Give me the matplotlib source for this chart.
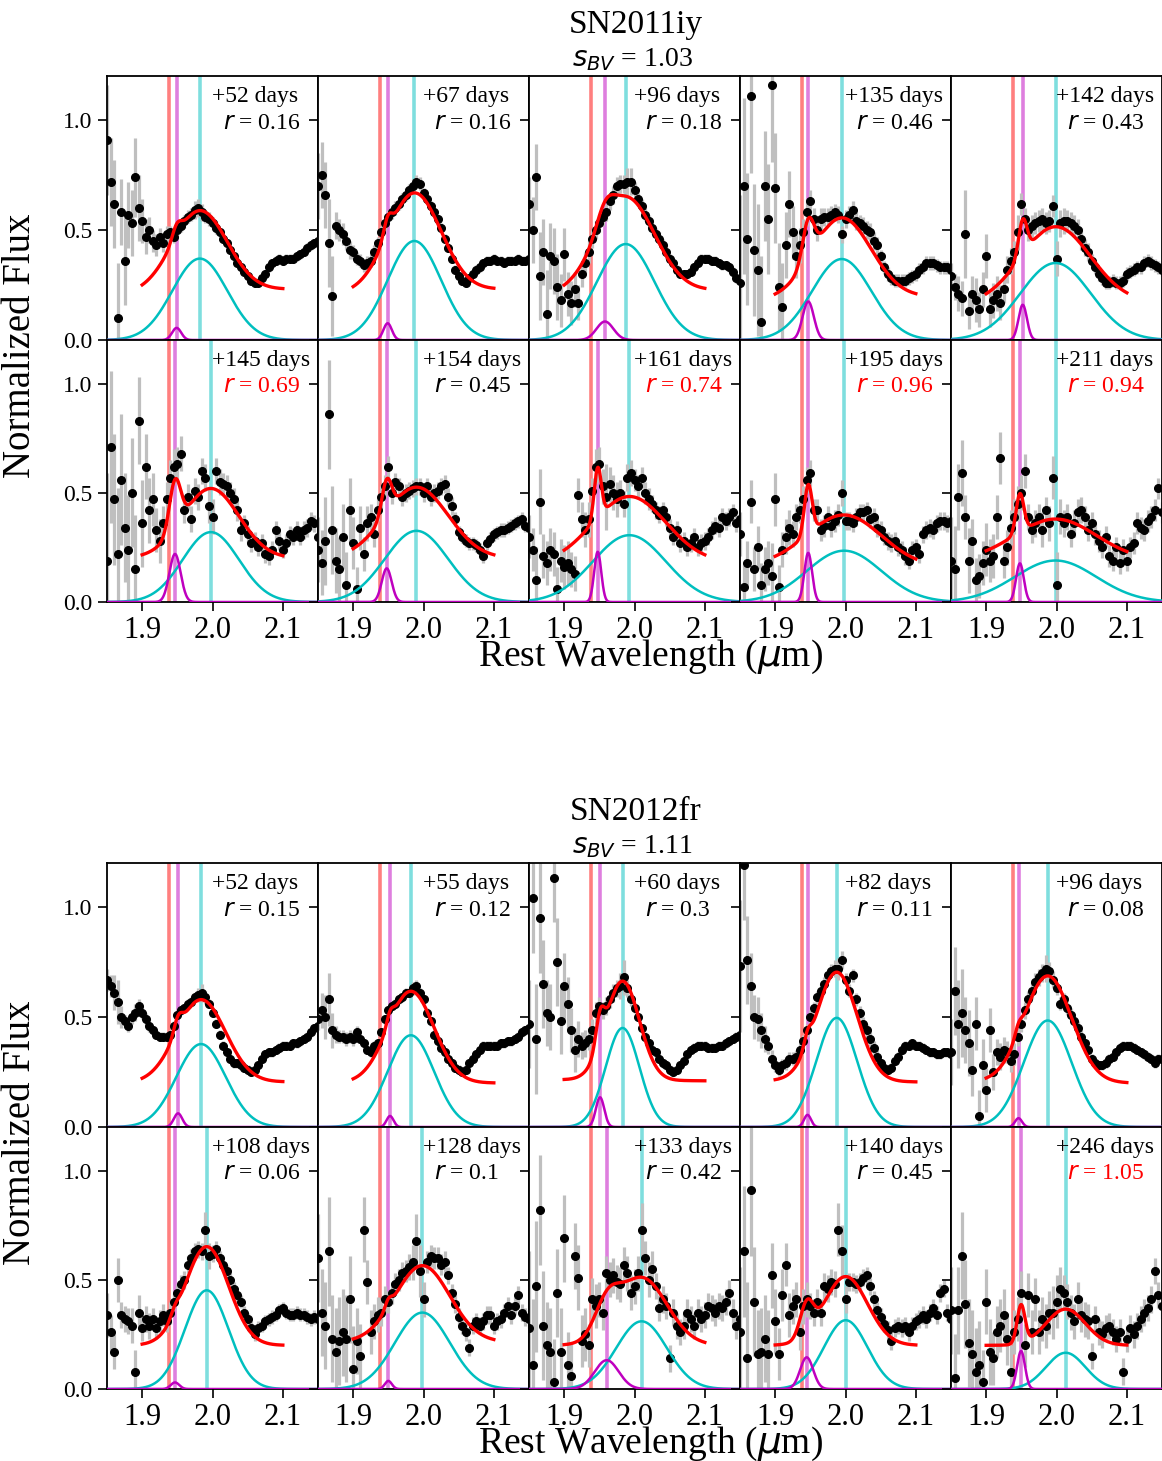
import numpy as np
import matplotlib
matplotlib.use('Agg')
import matplotlib.pyplot as plt

plt.rcParams['font.family'] = ['Liberation Serif', 'DejaVu Serif']
plt.rcParams['mathtext.fontset'] = 'dejavusans'
plt.rcParams['axes.linewidth'] = 1.3

W, H = 1162, 1461

# spectra sampled every 0.005 micron, 1.850 .. 2.150 (61 points), flux in hundredths
wave = np.linspace(1.85, 2.15, 61)

# ---------------- SN2011iy ----------------
sn11_days = [52, 67, 96, 135, 142, 145, 154, 161, 195, 211]
sn11_r = [0.16, 0.16, 0.18, 0.46, 0.43, 0.69, 0.45, 0.74, 0.96, 0.94]
sn11_flux = [
    "91 72 62 10 58 36 57 53 74 60 | 54 47 50 45 43 47 44 48 49 47 | 50 52 54 56 57 59 60 58 56 55 | 53 51 49 46 44 41 38 35 33 31 | 29 27 26 26 28 30 33 35 36 37 | 36 37 37 37 38 39 40 42 43 44 45",
    "70 75 66 44 20 52 50 48 45 41 | 40 37 36 34 35 36 40 44 49 53 | 56 58 60 62 64 66 68 70 72 71 | 67 64 61 58 55 51 46 42 37 32 | 29 27 26 28 30 32 33 35 36 36 | 37 36 36 35 36 36 36 37 36 36 37",
    "62 50 74 29 40 12 38 36 24 18 | 39 21 17 23 17 30 35 40 46 50 | 53 56 58 63 66 70 71 71 72 72 | 68 64 61 57 54 51 48 46 43 40 | 37 35 32 30 30 30 31 33 35 37 | 37 37 36 36 35 34 34 33 31 28 27",
    "26 70 46 111 41 32 8 70 55 116 | 69 24 15 43 62 49 38 43 49 58 | 63 55 50 55 56 56 57 58 57 48 | 55 57 59 54 53 52 50 49 45 43 | 38 33 30 28 27 27 27 27 28 29 | 30 32 33 35 35 35 34 33 33 33 32",
    "29 24 21 19 48 13 21 18 14 23 | 38 14 18 21 17 23 32 36 40 49 | 62 55 50 52 53 54 55 53 54 61 | 37 53 54 54 53 52 50 46 42 40 | 36 33 30 28 26 26 27 26 26 27 | 30 31 32 33 33 35 36 35 34 33 32",
    "19 71 47 22 56 34 24 50 15 83 | 36 62 42 47 33 28 36 47 57 62 | 63 68 42 48 38 51 48 60 57 44 | 39 60 55 54 53 50 47 42 33 36 | 31 27 28 25 27 22 21 24 33 28 | 24 27 31 30 33 30 33 34 37 36 30",
    "24 18 28 86 33 19 15 30 8 42 | 27 6 34 22 36 39 31 42 48 53 | 62 50 55 53 48 50 51 52 53 53 | 50 53 48 50 51 53 54 48 44 38 | 32 30 28 27 27 26 24 21 27 29 | 31 32 33 33 34 35 36 37 38 35 34",
    "30 24 10 46 21 18 24 22 6 19 | 16 18 15 13 49 38 33 38 51 62 | 63 53 48 54 50 47 50 45 57 59 | 56 53 57 50 47 45 42 40 42 39 | 34 30 33 27 28 25 27 30 25 27 | 28 30 33 35 34 39 37 39 41 36 38",
    "31 7 18 46 15 25 8 15 18 12 | 47 7 24 30 34 31 39 42 47 56 | 59 42 42 33 35 39 35 37 40 50 | 37 37 36 39 41 41 42 38 39 34 | 33 30 28 27 28 25 24 21 19 24 | 25 22 31 33 34 33 36 37 37 36 37",
    "19 15 48 59 39 19 28 10 12 18 | 24 19 21 39 66 19 25 34 39 45 | 50 60 39 33 36 39 33 42 36 57 | 8 39 36 39 31 36 41 42 39 33 | 36 31 28 25 30 21 19 25 18 24 | 19 25 27 36 34 33 37 39 42 52 41",
]
sn11_err = [
    "25 20 20 25 15 20 15 15 18 15 | 10 8 6 5 5 4 4 4 3 3 | 3 3 3 3 3 4 4 4 3 3 | 3 3 2 2 2 2 2 2 2 2 | 2 2 2 2 2 2 2 2 2 2 | 2 2 2 2 2 2 2 2 2 2 2",
    "15 15 15 20 18 6 5 5 4 4 | 3 3 3 3 3 3 3 3 3 3 | 3 3 3 3 3 3 3 3 3 3 | 2 2 2 2 2 2 2 2 2 2 | 2 2 2 2 2 2 2 2 2 2 | 2 2 2 2 2 2 2 2 2 2 2",
    "12 15 15 20 15 20 15 15 15 12 | 12 10 10 8 8 6 5 5 4 4 | 4 4 4 4 4 4 4 4 6 6 | 4 3 3 3 3 3 3 3 3 3 | 2 2 2 2 2 2 2 2 2 2 | 2 2 2 2 2 2 2 2 2 2 2",
    "40 40 30 35 30 30 30 25 25 35 | 25 20 20 15 15 12 10 8 6 6 | 5 5 5 5 4 4 4 4 4 4 | 4 4 4 4 4 4 4 4 4 4 | 3 3 3 3 3 3 3 3 3 3 | 3 3 3 3 3 3 3 3 3 3 3",
    "6 6 8 8 20 8 8 10 8 8 | 10 8 8 8 8 6 6 6 5 8 | 5 5 5 5 5 5 5 5 5 5 | 8 6 6 5 5 5 5 5 4 4 | 3 3 3 3 3 3 3 3 3 3 | 3 3 3 3 3 3 3 3 3 3 3",
    "40 35 30 30 30 25 25 25 25 20 | 20 15 15 12 10 10 8 8 8 8 | 8 8 6 6 6 6 6 6 6 8 | 8 6 6 5 5 5 5 5 5 4 | 4 4 4 4 4 4 4 4 4 4 | 4 4 4 4 4 4 4 4 4 4 4",
    "15 15 20 25 20 15 15 15 15 15 | 12 10 10 8 8 6 6 5 5 5 | 5 5 4 4 4 4 4 4 4 4 | 4 4 4 4 4 4 4 4 4 3 | 3 3 3 3 3 3 3 3 3 3 | 3 3 3 3 3 3 3 3 3 3 3",
    "10 10 15 15 10 10 10 10 10 10 | 10 10 8 8 8 8 8 8 6 8 | 8 8 15 8 8 8 6 6 6 6 | 5 5 5 5 5 4 4 4 4 4 | 4 4 4 4 4 4 4 4 4 4 | 4 4 4 4 4 4 4 4 4 4 4",
    "10 10 10 10 10 10 10 10 10 15 | 12 10 8 8 8 6 6 6 6 6 | 6 5 5 5 5 5 5 5 5 6 | 4 4 4 4 4 4 4 4 4 4 | 4 4 4 4 4 4 4 4 4 4 | 4 4 4 4 4 4 4 4 4 4 4",
    "20 20 15 15 10 15 10 10 10 10 | 12 10 10 10 12 8 8 8 8 8 | 8 8 6 6 6 6 8 6 8 10 | 15 8 6 6 6 6 6 6 5 5 | 5 5 5 5 5 5 5 5 5 5 | 5 5 5 5 5 5 5 5 5 5 5",
]
sn11_cyan_amp = [0.37, 0.45, 0.436, 0.368, 0.35, 0.32, 0.326, 0.306, 0.235, 0.19]
sn11_cyan_cen = [1.982, 1.987, 1.9875, 1.9946, 1.9986, 1.9976, 1.990, 1.9927, 1.998, 1.9986]
sn11_cyan_sig = [0.039, 0.038, 0.041, 0.042, 0.050, 0.040, 0.045, 0.052, 0.053, 0.058]
sn11_mag_amp = [0.055, 0.076, 0.084, 0.175, 0.16, 0.22, 0.154, 0.23, 0.225, 0.177]
sn11_mag_cen = [1.949, 1.949, 1.958, 1.947, 1.952, 1.9467, 1.9477, 1.9477, 1.947, 1.948]
sn11_mag_sig = [0.0065, 0.006, 0.012, 0.008, 0.006, 0.008, 0.007, 0.005, 0.0055, 0.0055]
sn11_cont_blue = [0.21, 0.21, 0.205, 0.18, 0.16, 0.20, 0.20, 0.175, 0.167, 0.19]
sn11_cont_red = [0.23, 0.23, 0.225, 0.195, 0.17, 0.20, 0.20, 0.18, 0.16, 0.19]

# ---------------- SN2012fr ----------------
sn12_days = [52, 55, 60, 82, 96, 108, 128, 133, 140, 246]
sn12_r = [0.15, 0.12, 0.3, 0.11, 0.08, 0.06, 0.1, 0.42, 0.45, 1.05]
sn12_flux = [
    "67 64 61 57 50 48 46 50 52 55 | 52 49 46 44 42 41 41 41 42 46 | 51 53 54 56 57 59 60 61 59 56 | 52 47 42 37 34 31 29 29 28 27 | 26 25 26 28 31 33 34 34 35 36 | 37 37 37 38 38 39 40 41 43 45 46",
    "49 53 50 58 44 42 41 41 40 41 | 40 43 40 38 35 34 37 38 43 49 | 53 55 56 58 59 61 61 63 64 61 | 58 52 48 42 39 36 34 31 29 27 | 26 25 26 29 31 33 35 37 37 37 | 37 37 38 38 39 39 40 41 43 44 45",
    "47 104 40 95 65 52 50 113 75 48 | 64 56 44 35 40 37 38 40 44 52 | 55 53 55 58 61 63 64 68 63 58 | 54 50 45 41 38 35 34 31 29 28 | 26 25 26 28 30 33 35 36 37 37 | 37 36 36 36 37 37 38 39 40 41 42",
    "73 119 76 64 50 49 44 40 37 31 | 28 26 28 29 31 31 32 35 39 44 | 50 54 59 62 65 69 71 72 72 76 | 67 62 69 58 52 47 44 40 36 32 | 29 27 26 27 30 32 35 37 37 38 | 37 37 36 35 34 34 33 33 34 34 33",
    "34 62 47 52 44 38 26 47 5 28 | 17 44 25 34 32 35 34 30 33 41 | 47 53 58 62 66 68 70 72 71 67 | 63 56 58 54 51 48 45 41 38 35 | 31 29 28 28 29 31 32 34 36 37 | 37 37 36 35 34 33 32 31 29 31 31",
    "34 26 17 50 34 32 31 29 8 35 | 28 32 29 32 28 31 34 31 35 40 | 44 48 50 57 60 63 64 63 73 61 | 62 64 60 57 54 50 46 43 40 35 | 32 28 25 28 29 31 32 33 34 36 | 37 35 34 34 35 34 34 33 32 33 32",
    "60 35 29 63 23 17 22 26 23 41 | 9 22 15 73 49 26 31 34 35 41 | 40 44 48 50 53 54 56 58 68 54 | 41 58 61 60 60 57 58 52 44 39 | 33 29 26 19 29 31 29 31 34 34 | 29 31 32 35 38 34 38 43 35 33 32",
    "28 11 47 82 29 20 17 3 44 17 | 69 11 6 61 51 22 25 20 41 38 | 41 35 53 50 52 49 48 57 53 44 | 47 53 73 60 50 55 47 37 41 38 | 14 35 29 26 29 35 32 29 35 32 | 34 38 37 35 38 37 40 44 35 29 32",
    "26 63 14 91 40 16 17 23 16 52 | 31 16 43 57 34 38 41 26 38 41 | 38 35 40 35 47 46 49 48 73 63 | 41 49 49 48 49 51 52 47 41 36 | 33 30 27 22 28 29 28 29 26 29 | 31 32 34 32 35 37 34 44 46 35 32",
    "36 5 36 61 39 21 16 8 11 3 | 40 17 14 26 29 34 23 8 26 32 | 44 20 43 26 41 26 32 29 35 35 | 40 46 44 40 35 31 41 34 32 31 | 15 32 26 25 28 29 26 23 26 8 | 23 28 25 29 32 35 37 41 54 43 38",
]
sn12_err = [
    "5 5 8 10 5 3 3 3 4 3 | 3 3 3 2 2 2 2 2 2 2 | 2 2 2 2 2 2 3 4 3 2 | 2 2 2 2 2 2 2 2 2 2 | 2 2 2 2 2 2 2 2 2 2 | 2 2 2 2 2 2 2 2 2 2 2",
    "5 8 10 12 8 4 3 3 3 3 | 3 3 2 2 2 2 2 2 2 2 | 2 2 2 2 2 2 2 3 3 2 | 2 2 2 2 2 2 2 2 2 2 | 2 2 2 2 2 2 2 2 2 2 | 2 2 2 2 2 2 2 2 2 2 2",
    "20 25 25 25 20 15 15 20 20 15 | 15 12 10 10 8 6 6 5 5 5 | 4 4 4 4 4 4 6 8 4 3 | 2 2 2 2 2 2 2 2 2 2 | 2 2 2 2 2 2 2 2 2 2 | 2 2 2 2 2 2 2 2 2 2 2",
    "30 25 20 15 10 10 8 6 4 4 | 3 3 3 3 3 3 3 3 3 3 | 3 3 3 3 3 3 3 4 5 4 | 3 3 3 3 3 3 3 3 3 3 | 2 2 2 2 2 2 2 2 2 2 | 2 2 2 2 2 2 2 2 2 2 2",
    "15 20 20 20 15 15 12 12 12 12 | 10 10 8 6 6 6 5 5 5 4 | 4 4 4 4 4 4 4 6 4 4 | 3 3 3 3 3 3 3 3 2 2 | 2 2 2 2 2 2 2 2 2 2 | 2 2 2 2 2 2 2 2 2 2 2",
    "10 8 8 10 6 6 6 8 10 8 | 6 6 6 5 5 5 5 5 5 4 | 4 4 4 4 4 4 4 4 8 6 | 4 4 3 3 3 3 3 3 3 3 | 3 3 3 3 3 3 3 3 3 3 | 3 3 3 3 3 3 3 3 3 3 3",
    "20 20 20 25 20 20 20 20 20 20 | 20 15 15 15 10 10 8 8 6 6 | 5 5 5 5 5 5 6 8 12 12 | 8 5 5 5 5 5 5 4 4 4 | 4 4 4 4 4 4 4 4 4 4 | 4 4 4 4 4 4 4 4 4 4 4",
    "35 30 30 25 25 20 20 20 20 20 | 20 15 15 15 15 12 12 10 10 10 | 8 8 8 8 8 8 8 8 8 8 | 8 8 12 8 8 8 6 6 6 6 | 6 6 6 6 6 6 6 6 6 6 | 6 6 6 6 6 6 6 6 6 6 6",
    "30 30 35 30 25 20 20 20 20 15 | 15 12 12 10 10 8 8 8 8 8 | 6 6 6 6 6 6 6 6 12 12 | 6 4 4 4 4 4 4 4 4 4 | 4 4 4 4 4 4 4 4 4 4 | 4 4 4 4 4 4 4 4 4 4 4",
    "20 20 20 20 20 20 20 20 20 15 | 15 15 12 12 12 12 12 12 10 10 | 10 10 10 10 10 10 10 10 10 12 | 12 10 8 8 8 8 8 8 8 8 | 6 6 6 6 6 6 6 6 6 6 | 6 6 6 6 6 6 6 6 6 6 6",
]
sn12_cyan_amp = [0.377, 0.417, 0.45, 0.496, 0.484, 0.452, 0.35, 0.31, 0.315, 0.166]
sn12_cyan_cen = [1.9837, 1.982, 1.983, 1.9875, 1.9875, 1.9918, 1.9984, 2.010, 2.0003, 2.013]
sn12_cyan_sig = [0.035, 0.033, 0.024, 0.029, 0.034, 0.031, 0.039, 0.036, 0.031, 0.028]
sn12_mag_amp = [0.062, 0.05, 0.135, 0.055, 0.04, 0.03, 0.037, 0.132, 0.145, 0.174]
sn12_mag_cen = [1.951, 1.9524, 1.951, 1.946, 1.946, 1.9467, 1.95, 1.9605, 1.9448, 1.9496]
sn12_mag_sig = [0.006, 0.005, 0.006, 0.005, 0.005, 0.006, 0.005, 0.017, 0.0093, 0.0056]
sn12_cont_blue = [0.20, 0.20, 0.215, 0.21, 0.205, 0.20, 0.215, 0.20, 0.20, 0.20]
sn12_cont_red = [0.205, 0.20, 0.21, 0.205, 0.20, 0.20, 0.215, 0.20, 0.20, 0.20]

red_line = 1.938          # fixed red marker line
fit_range = (1.90, 2.10)  # range of the fitted model


def parse(s):
    return np.array(s.replace('|', ' ').split(), dtype=float) / 100.


def gauss(x, a, c, s):
    return a * np.exp(-0.5 * ((x - c) / s) ** 2)


def px_axes(fig, x0, y0, w, h):
    return fig.add_axes([x0 / W, 1 - (y0 + h) / H, w / W, h / H])


def draw_block(fig, top, name, sbv, days, rvals, flux, err,
               ca, cc, cs, ma, mc, ms, cb, cr):
    fig.text(636 / W, 1 - (top - 43) / H, name, ha='center', va='baseline', fontsize=24)
    fig.text(632 / W, 1 - (top - 9.5) / H, r'$s_{BV}$ = ' + sbv, ha='center',
             va='baseline', fontsize=20)
    row_h = [264, 262]
    xmod = np.linspace(1.85, 2.15, 500)
    xfit = np.linspace(fit_range[0], fit_range[1], 300)
    for i in range(10):
        row, col = divmod(i, 5)
        y0 = top + (0 if row == 0 else row_h[0])
        ax = px_axes(fig, 107 + 211 * col, y0, 211, row_h[row])
        f = parse(flux[i])
        e = parse(err[i])
        ax.axvline(red_line, color='r', alpha=0.5, lw=2.6, zorder=1)
        ax.axvline(mc[i], color='m', alpha=0.5, lw=2.6, zorder=1)
        ax.axvline(cc[i], color='c', alpha=0.5, lw=2.6, zorder=1)
        ax.errorbar(wave, f, yerr=e, fmt='o', color='k', ms=5.5, ecolor='0.75',
                    elinewidth=2.3, capsize=0, zorder=2)
        ax.plot(xmod, gauss(xmod, ca[i], cc[i], cs[i]), color='c', lw=1.8, zorder=3)
        ax.plot(xmod, gauss(xmod, ma[i], mc[i], ms[i]), color='m', lw=1.8, zorder=3)
        cont = cb[i] + (cr[i] - cb[i]) * (xfit - fit_range[0]) / (fit_range[1] - fit_range[0])
        model = cont + gauss(xfit, ca[i], cc[i], cs[i]) + gauss(xfit, ma[i], mc[i], ms[i])
        ax.plot(xfit, model, color='r', lw=2.4, zorder=4)

        ax.set_xlim(1.85, 2.15)
        ax.set_ylim(0, 1.2)
        ax.set_xticks([1.9, 2.0, 2.1])
        ax.set_yticks([0.0, 0.5, 1.0])
        ax.tick_params(direction='out', length=6.5, width=1.2)
        ax.tick_params(axis='y', labelsize=17, pad=4)
        ax.tick_params(axis='x', labelsize=22, pad=3.5)
        if col == 0:
            ax.set_yticklabels(['0.0', '0.5', '1.0'])
        else:
            ax.set_yticklabels([])
        if row == 1:
            ax.set_xticklabels(['1.9', '2.0', '2.1'])
        else:
            ax.set_xticklabels([])

        ax.text(0.497, 0.9, '+%d days' % days[i], transform=ax.transAxes,
                ha='left', va='baseline', fontsize=17)
        rcol = 'r' if rvals[i] > 0.6 else 'k'
        ax.text(0.549, 0.8, r'$r$ = ' + str(rvals[i]), transform=ax.transAxes,
                ha='left', va='baseline', fontsize=17, color=rcol)

    fig.text(39 / W, 1 - (top + 270) / H, 'Normalized Flux', rotation=90,
             ha='right', va='center', fontsize=28)
    fig.text(650 / W, 1 - (top + 590) / H, r'Rest Wavelength ($\mu$m)',
             ha='center', va='baseline', fontsize=27)


fig = plt.figure(figsize=(W / 100, H / 100), dpi=100)
draw_block(fig, 76, 'SN2011iy', '1.03', sn11_days, sn11_r, sn11_flux, sn11_err,
           sn11_cyan_amp, sn11_cyan_cen, sn11_cyan_sig,
           sn11_mag_amp, sn11_mag_cen, sn11_mag_sig, sn11_cont_blue, sn11_cont_red)
draw_block(fig, 863, 'SN2012fr', '1.11', sn12_days, sn12_r, sn12_flux, sn12_err,
           sn12_cyan_amp, sn12_cyan_cen, sn12_cyan_sig,
           sn12_mag_amp, sn12_mag_cen, sn12_mag_sig, sn12_cont_blue, sn12_cont_red)
fig.savefig('out.png', dpi=100)
